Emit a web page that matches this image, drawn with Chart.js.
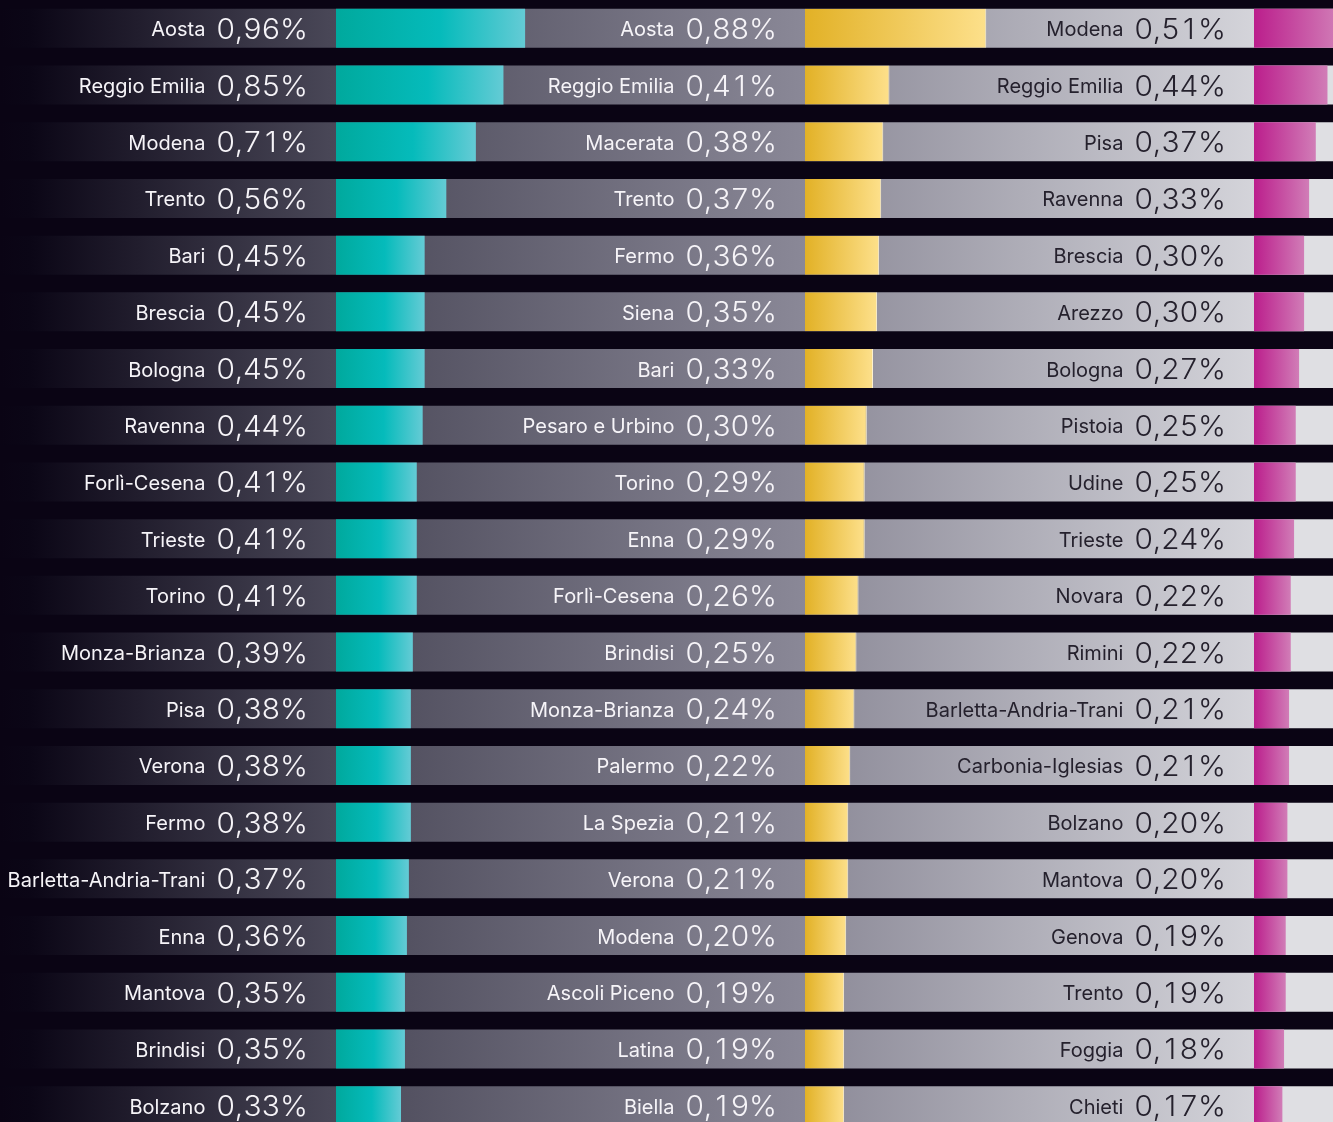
<!DOCTYPE html>
<html>
<head>
<meta charset="utf-8">
<script src="https://cdn.jsdelivr.net/npm/chart.js@4.4.1/dist/chart.umd.min.js"></script>
<style>
html, body { margin: 0; padding: 0; background: #0a0414; overflow: hidden; }
#wrap { width: 1333px; height: 1122px; overflow: hidden; position: relative; background: #0a0414; }
canvas { display: block; }
</style>
</head>
<body>
<div id="wrap"><canvas id="c" width="1333" height="1134"></canvas></div>
<script>
// ---- DATA ----
const ranks = [1, 2, 3, 4, 5, 6, 7, 8, 9, 10, 11, 12, 13, 14, 15, 16, 17, 18, 19, 20];

const names1 = ["Aosta", "Reggio Emilia", "Modena", "Trento", "Bari", "Brescia", "Bologna", "Ravenna",
  "Forlì-Cesena", "Trieste", "Torino", "Monza-Brianza", "Pisa", "Verona", "Fermo",
  "Barletta-Andria-Trani", "Enna", "Mantova", "Brindisi", "Bolzano"];
const values1 = [0.96, 0.85, 0.71, 0.56, 0.45, 0.45, 0.45, 0.44, 0.41, 0.41, 0.41, 0.39, 0.38, 0.38, 0.38,
  0.37, 0.36, 0.35, 0.35, 0.33];

const names2 = ["Aosta", "Reggio Emilia", "Macerata", "Trento", "Fermo", "Siena", "Bari", "Pesaro e Urbino",
  "Torino", "Enna", "Forlì-Cesena", "Brindisi", "Monza-Brianza", "Palermo", "La Spezia", "Verona",
  "Modena", "Ascoli Piceno", "Latina", "Biella"];
const values2 = [0.88, 0.41, 0.38, 0.37, 0.36, 0.35, 0.33, 0.30, 0.29, 0.29, 0.26, 0.25, 0.24, 0.22, 0.21,
  0.21, 0.20, 0.19, 0.19, 0.19];

const names3 = ["Modena", "Reggio Emilia", "Pisa", "Ravenna", "Brescia", "Arezzo", "Bologna", "Pistoia",
  "Udine", "Trieste", "Novara", "Rimini", "Barletta-Andria-Trani", "Carbonia-Iglesias", "Bolzano",
  "Mantova", "Genova", "Trento", "Foggia", "Chieti"];
const values3 = [0.51, 0.44, 0.37, 0.33, 0.30, 0.30, 0.27, 0.25, 0.25, 0.24, 0.22, 0.22, 0.21, 0.21, 0.20,
  0.20, 0.19, 0.19, 0.18, 0.17];

// ---- LAYOUT ----
const W = 1333;
const COL_ZERO_PX = [336, 805, 1254];   // pixel where each column's bar starts
const PX_PER_PCT = [197, 206, 167];      // pixels per 1% in each column
const TEXT_GAP = 28, NAME_GAP = 11;
const VALUE_FONT = '350 28px Inter, "Noto Sans", sans-serif';
const VALUE_STRETCH = 1.065;
const NAME_FONT = '400 20px Inter, "Noto Sans", sans-serif';

const axMin = i => -COL_ZERO_PX[i] / PX_PER_PCT[i];
const axMax = i => (W - COL_ZERO_PX[i]) / PX_PER_PCT[i];
const C2_IN_X1 = (COL_ZERO_PX[1] - COL_ZERO_PX[0]) / PX_PER_PCT[0];
const C3_IN_X2 = (COL_ZERO_PX[2] - COL_ZERO_PX[1]) / PX_PER_PCT[1];

const fmt = v => v.toFixed(2).replace('.', ',') + '%';

function spaceGradient(axis, fromV, toV, stops, fallback) {
  return (c) => {
    const chart = c.chart;
    if (!chart.chartArea || !chart.scales[axis]) return fallback;
    const s = chart.scales[axis];
    const g = chart.ctx.createLinearGradient(s.getPixelForValue(fromV), 0, s.getPixelForValue(toV), 0);
    stops.forEach(([o, col]) => g.addColorStop(o, col));
    return g;
  };
}
function barGradient(axis, values, stops, fallback) {
  return (c) => {
    const chart = c.chart;
    if (!chart.chartArea || !chart.scales[axis] || c.dataIndex === undefined) return fallback;
    const s = chart.scales[axis];
    const x0 = s.getPixelForValue(0), x1 = s.getPixelForValue(values[c.dataIndex]);
    const g = chart.ctx.createLinearGradient(x0, 0, x1, 0);
    stops.forEach(([o, col]) => g.addColorStop(o, col));
    return g;
  };
}

const common = { grouped: false, categoryPercentage: 0.688, barPercentage: 1, borderWidth: 0, borderSkipped: false };

const datasets = [
  Object.assign({}, common, {
    label: 'bg1', xAxisID: 'x1', order: 2,
    data: ranks.map(() => [axMin(0), 0]),
    backgroundColor: spaceGradient('x1', axMin(0), 0, [[0, '#0a0414'], [0.09, '#0b0616'], [1, '#4a4858']], '#2a2836')
  }),
  Object.assign({}, common, {
    label: 'bg2', xAxisID: 'x1', order: 2,
    data: ranks.map(() => [0, C2_IN_X1]),
    backgroundColor: spaceGradient('x1', 0, C2_IN_X1, [[0, '#4a4858'], [1, '#8a8897']], '#66646f')
  }),
  Object.assign({}, common, {
    label: 'bg3', xAxisID: 'x2', order: 2,
    data: ranks.map(() => [0, C3_IN_X2]),
    backgroundColor: spaceGradient('x2', 0, C3_IN_X2, [[0, '#8b8997'], [1, '#d4d4da']], '#aaa8b4')
  }),
  Object.assign({}, common, {
    label: 'bg4', xAxisID: 'x3', order: 2,
    data: ranks.map(() => [0, axMax(2)]),
    backgroundColor: '#dfdfe3'
  }),
  Object.assign({}, common, {
    label: 'col1', xAxisID: 'x1', order: 1,
    data: values1.map(v => [0, v]),
    backgroundColor: barGradient('x1', values1, [[0, '#00a99d'], [0.55, '#05bbbb'], [1, '#64cbd5']], '#00b3ad')
  }),
  Object.assign({}, common, {
    label: 'col2', xAxisID: 'x2', order: 1,
    data: values2.map(v => [0, v]),
    borderWidth: { top: 0, right: 1, bottom: 0, left: 0 },
    borderColor: '#fff4d2',
    backgroundColor: barGradient('x2', values2, [[0, '#e2b126'], [1, '#fde08b']], '#f0c85a')
  }),
  Object.assign({}, common, {
    label: 'col3', xAxisID: 'x3', order: 1,
    data: values3.map(v => [0, v]),
    backgroundColor: barGradient('x3', values3, [[0, '#bb1e8c'], [1, '#d17db7']], '#c64c9f')
  })
];

// draws text right-aligned at xr with tabular (fixed-width) digits; returns total width
function drawTabular(ctx, text, xr, baseline, stretch) {
  const digitW = ctx.measureText('0').width;
  const chars = Array.from(text);
  const cells = chars.map(ch => /\d/.test(ch) ? digitW : ctx.measureText(ch).width);
  const total = cells.reduce((a, b) => a + b, 0);
  ctx.save();
  ctx.textAlign = 'left';
  ctx.translate(xr - total * stretch, baseline);
  ctx.scale(stretch, 1);
  let off = 0;
  chars.forEach((ch, k) => {
    const aw = ctx.measureText(ch).width;
    ctx.fillText(ch, off + (cells[k] - aw) / 2, 0);
    off += cells[k];
  });
  ctx.restore();
  return total * stretch;
}

const labelPlugin = {
  id: 'rowLabels',
  afterDatasetsDraw(chart) {
    const ctx = chart.ctx;
    const y = chart.scales.y;
    const cols = [
      [names1, values1, 'x1', '#f6f4f8'],
      [names2, values2, 'x2', '#f6f4f8'],
      [names3, values3, 'x3', '#25212d']
    ];
    ctx.save();
    ctx.textAlign = 'right';
    ctx.textBaseline = 'alphabetic';
    cols.forEach(([names, vals, axis, color]) => {
      const xr = chart.scales[axis].getPixelForValue(0) - TEXT_GAP;
      names.forEach((n, i) => {
        const yc = y.getPixelForValue(i);
        ctx.fillStyle = color;
        ctx.font = VALUE_FONT;
        const w = drawTabular(ctx, fmt(vals[i]), xr, yc + 10.5, VALUE_STRETCH);
        ctx.font = NAME_FONT;
        ctx.textAlign = 'right';
        ctx.fillText(n, xr - w - NAME_GAP, yc + 8);
      });
    });
    ctx.restore();
  }
};

const hiddenLinear = (i) => ({
  type: 'linear', display: false, min: axMin(i), max: axMax(i),
  grid: { display: false }, ticks: { display: false }
});

new Chart(document.getElementById('c'), {
  type: 'bar',
  data: { labels: ranks, datasets },
  options: {
    indexAxis: 'y',
    responsive: false,
    animation: false,
    layout: { padding: 0 },
    plugins: { legend: { display: false }, tooltip: { enabled: false } },
    scales: {
      y: { type: 'category', display: false, offset: true, grid: { display: false } },
      x1: hiddenLinear(0),
      x2: hiddenLinear(1),
      x3: hiddenLinear(2)
    }
  },
  plugins: [labelPlugin]
});
</script>
</body>
</html>
